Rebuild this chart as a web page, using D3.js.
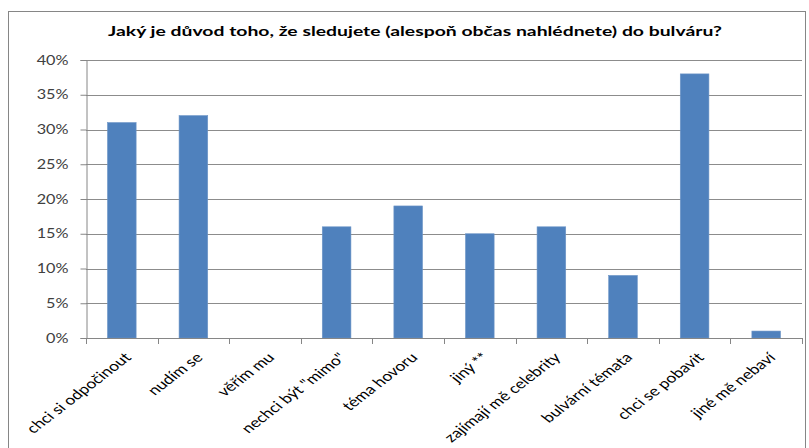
<!DOCTYPE html>
<html>
<head>
<meta charset="utf-8">
<script src="https://cdn.jsdelivr.net/npm/d3@7"></script>
<style>
  html, body { margin: 0; padding: 0; background: #fff; }
  svg { display: block; font-family: Lato, "Open Sans", sans-serif; }
</style>
</head>
<body>
<svg id="chart" width="809" height="448"></svg>
<script>
// Survey answers: reasons for reading the tabloid press
const categories = [
  "chci si odpočinout", "nudím se", "věřím mu", "nechci být \"mimo\"",
  "téma hovoru", "jiný **", "zajímají mě celebrity", "bulvární témata",
  "chci se pobavit", "jiné mě nebaví"
];
const shares = [31, 32, 0, 16, 19, 15, 16, 9, 38, 1];
const yTicks = [0, 5, 10, 15, 20, 25, 30, 35, 40];
const title = "Jaký je důvod toho, že sledujete (alespoň občas nahlédnete) do bulváru?";

const svg = d3.select("#chart");
const plot = { left: 86, right: 802, top: 60, bottom: 338 };
const stretch = 1.3; // text is set wide

// chart frame
svg.append("rect")
  .attr("x", 8.5).attr("y", 11.5)
  .attr("width", 797).attr("height", 450)
  .attr("fill", "none").attr("stroke", "#868686").attr("stroke-width", 1);

svg.append("text")
  .attr("x", 108).attr("y", 35.5)
  .attr("textLength", 614).attr("lengthAdjust", "spacingAndGlyphs")
  .attr("font-size", 13).attr("font-weight", "bold")
  .attr("fill", "#000")
  .text(title);

const x = d3.scaleBand()
  .domain(categories)
  .range([plot.left, plot.right])
  .paddingInner(0.6).paddingOuter(0.3);

const y = d3.scaleLinear().domain([0, 40]).range([plot.bottom, plot.top]);

// horizontal gridlines
svg.append("g")
  .selectAll("line")
  .data(yTicks.filter(d => d > 0))
  .join("line")
  .attr("x1", plot.left).attr("x2", plot.right)
  .attr("y1", d => Math.round(y(d)) + 0.5).attr("y2", d => Math.round(y(d)) + 0.5)
  .attr("stroke", "#8c8c8c").attr("stroke-width", 1);

// bars
svg.append("g")
  .selectAll("rect")
  .data(shares)
  .join("rect")
  .attr("x", (d, i) => x(categories[i]))
  .attr("width", x.bandwidth())
  .attr("y", d => y(d))
  .attr("height", d => y(0) - y(d))
  .attr("fill", "#4f81bd")
  .attr("stroke", "#6d95c7").attr("stroke-width", 0.6);

// y axis
const yAxis = d3.axisLeft(y)
  .tickValues(yTicks)
  .tickFormat(d => d + "%")
  .tickSize(6);
const gy = svg.append("g")
  .attr("transform", `translate(${plot.left + 0.5},0)`)
  .call(yAxis);
gy.select(".domain").attr("stroke", "#868686");
gy.selectAll(".tick line").attr("stroke", "#868686");
gy.selectAll(".tick text")
  .attr("x", null)
  .attr("transform", `translate(-18,0) scale(${stretch},1)`)
  .attr("font-family", "Lato, 'Open Sans', sans-serif")
  .attr("font-size", 12.5).attr("fill", "#404040");

// x axis with ticks on category boundaries
const boundaries = d3.range(categories.length + 1)
  .map(i => plot.left + i * (plot.right - plot.left) / categories.length);
const gx = svg.append("g");
gx.append("line")
  .attr("x1", plot.left).attr("x2", plot.right)
  .attr("y1", plot.bottom + 0.5).attr("y2", plot.bottom + 0.5)
  .attr("stroke", "#868686");
gx.selectAll("line.b")
  .data(boundaries)
  .join("line")
  .attr("class", "b")
  .attr("x1", d => Math.round(d) + 0.5).attr("x2", d => Math.round(d) + 0.5)
  .attr("y1", plot.bottom).attr("y2", plot.bottom + 6)
  .attr("stroke", "#868686");

gx.selectAll("text")
  .data(categories)
  .join("text")
  .attr("transform", d => `translate(${x(d) + x.bandwidth() / 2 + 6},${plot.bottom + 17}) scale(${stretch},1) rotate(-45)`)
  .attr("text-anchor", "end")
  .attr("dy", "0.35em")
  .attr("font-size", 13.5).attr("fill", "#000")
  .text(d => d);
</script>
</body>
</html>
